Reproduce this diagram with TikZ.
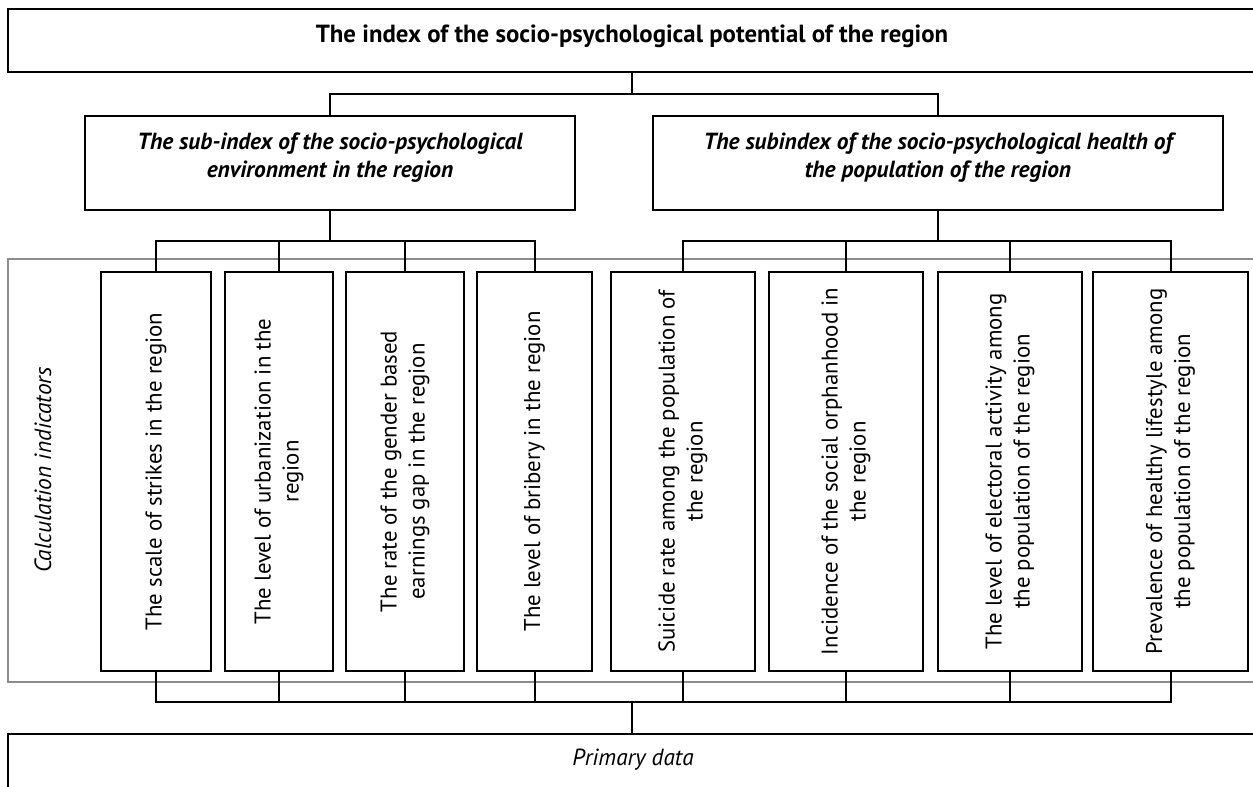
\documentclass[tikz,border=0pt]{standalone}
\usepackage{fontspec}
\setmainfont{PT Sans}
\begin{document}
\begin{tikzpicture}[x=0.75pt,y=-0.75pt,
  ln/.style={line width=1.5pt,black},
  box/.style={draw=black,line width=1.5pt,fill=white,inner sep=0pt},
  wh/.style 2 args={minimum width=#1*0.75pt,minimum height=#2*0.75pt},
  ind/.style={rotate=90,align=center,font=\fontsize{17.1}{21}\selectfont,inner sep=0pt},
  subt/.style={align=center,font=\fontsize{17.5}{21}\selectfont\bfseries\itshape,inner sep=0pt}]
\clip (0,0) rectangle (1253,787);
\fill[white] (0,0) rectangle (1253,787);
% gray frame
\node[draw={rgb,255:red,140;green,140;blue,140},line width=1.5pt,wh={1254}{423}] (calc) at (635,470.5) {};
\node[rotate=90,font=\fontsize{17.6}{21}\selectfont\itshape] (calclab) at (43,470) {Calculation indicators};
% top
\node[box,wh={1254}{63}] (top) at (635,40.5) {};
\node[font=\fontsize{18.6}{21}\selectfont\bfseries] (toptxt) at (632,36) {The index of the socio-psychological potential of the region};
\node[box,wh={490}{94}] (subL) at (330,163) {};
\node[subt] (subLt) at (330,158) {The sub-index of the socio-psychological\\environment in the region};
\node[box,wh={570}{94}] (subR) at (938,163) {};
\node[subt] (subRt) at (938,158) {The subindex of the socio-psychological health of\\the population of the region};
% indicators
\node[box,wh={110}{399}] (b1) at (156,471.5) {};
\node[box,wh={108}{399}] (b2) at (279,471.5) {};
\node[box,wh={118}{399}] (b3) at (405,471.5) {};
\node[box,wh={115}{399}] (b4) at (534.5,471.5) {};
\node[box,wh={144}{399}] (b5) at (683,471.5) {};
\node[box,wh={154}{399}] (b6) at (846,471.5) {};
\node[box,wh={144}{399}] (b7) at (1010,471.5) {};
\node[box,wh={155}{399}] (b8) at (1170.5,471.5) {};
\node[ind] (t1) at (b1) {The scale of strikes in the region};
\node[ind] (t2) at (b2) {The level of urbanization in the\\region};
\node[ind] (t3) at (b3) {The rate of the gender based\\earnings gap in the region};
\node[ind] (t4) at (b4) {The level of bribery in the region};
\node[ind] (t5) at (b5) {Suicide rate among the population of\\the region};
\node[ind] (t6) at (b6) {Incidence of the social orphanhood in\\the region};
\node[ind] (t7) at (b7) {The level of electoral activity among\\the population of the region};
\node[ind] (t8) at (b8) {Prevalence of healthy lifestyle among\\the population of the region};
% bottom
\node[box,wh={1254}{72}] (bot) at (635,770) {};
\node[font=\fontsize{17.5}{21}\selectfont\itshape] (pd) at (633,760) {Primary data};
% junctions
\coordinate (j0) at (632,94);
\coordinate (jL) at (330,241);
\coordinate (jR) at (938,241);
\coordinate (jB) at (632,702);
% connectors
\draw[ln] (top.south -| j0) -- (j0);
\draw[ln] (subL.north) -- (subL.north |- j0) -- (subR.north |- j0) -- (subR.north);
\draw[ln] (subL.south) -- (jL);
\draw[ln] (subR.south) -- (jR);
\draw[ln] (b1.north) -- (b1.north |- jL) -- (b4.north |- jL) -- (b4.north);
\draw[ln] (b2.north) -- (b2.north |- jL);
\draw[ln] (b3.north) -- (b3.north |- jL);
\draw[ln] (b5.north) -- (b5.north |- jR) -- (b8.north |- jR) -- (b8.north);
\draw[ln] (b6.north) -- (b6.north |- jR);
\draw[ln] (b7.north) -- (b7.north |- jR);
\draw[ln] (b1.south) -- (b1.south |- jB) -- (b8.south |- jB) -- (b8.south);
\foreach \b in {b2,b3,b4,b5,b6,b7} \draw[ln] (\b.south) -- (\b.south |- jB);
\draw[ln] (jB) -- (bot.north -| jB);
\end{tikzpicture}
\end{document}
